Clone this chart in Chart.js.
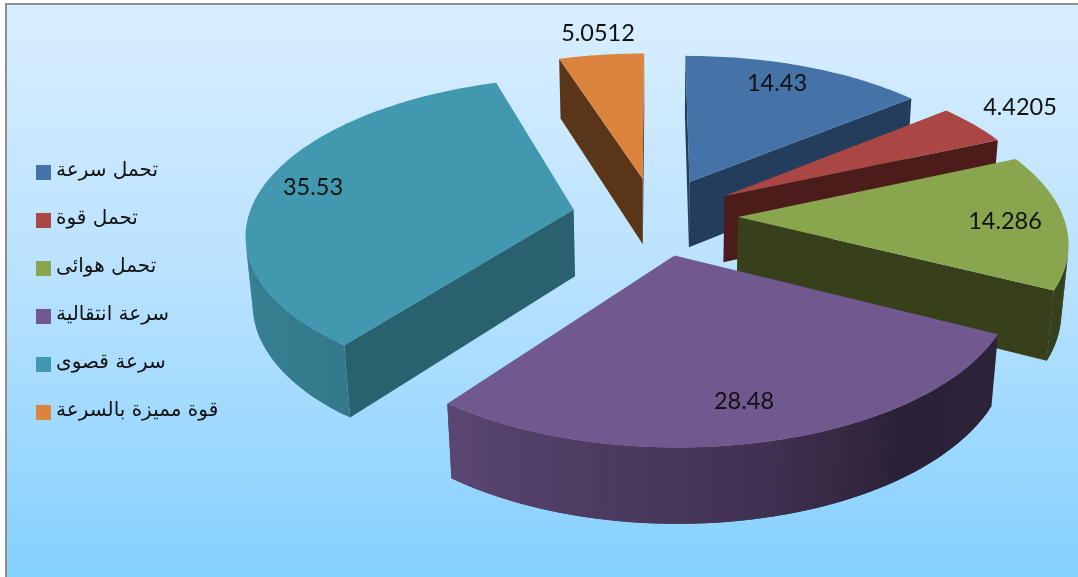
<!DOCTYPE html>
<html>
<head>
<meta charset="utf-8">
<style>
  html, body { margin: 0; padding: 0; background: #fff; overflow: hidden; }
  #panel {
    position: absolute; left: 5px; top: 3px; width: 1073px; height: 574px;
    border-left: 2px solid #8e8e8e; border-top: 2px solid #8e8e8e;
    background: linear-gradient(#d9eeff 0%, #b7e1ff 50%, #84d0ff 100%);
  }
  canvas { position: absolute; left: 0; top: 0; }
</style>
</head>
<body>
<div id="panel"></div>
<canvas id="chart" width="1078" height="577"></canvas>
<script src="https://cdn.jsdelivr.net/npm/chart.js@4/dist/chart.umd.min.js"></script>
<script>
const categories = ['تحمل سرعة', 'تحمل قوة ', 'تحمل هوائى', 'سرعة انتقالية', 'سرعة قصوى', 'قوة مميزة بالسرعة']
const values = [14.43, 4.4205, 14.286, 28.48, 35.53, 5.0512]
const topColors = ['#4572a7', '#aa4643', '#89a54e', '#71588f', '#4198af', '#db843d']
const cutColors = ['#253d5c', '#4b1c1a', '#37401b', '#2c2238', '#2a616f', '#5a3517']
const labelSpots = [[777, 83], [1020, 107], [1005, 221], [744, 401], [313, 187], [598, 33]]

// camera used to tilt the pie, all sizes in canvas px
const view = { x: 655, y: 216, radius: 325, camera: 2300, tilt: 0.47, thick: 67, sink: 40 }

const project = (u, v, isBottom) => {
  const { x, y, camera, tilt, thick, sink } = view
  const d = camera - v + (isBottom ? sink : 0)
  const drop = isBottom ? thick * (camera + sink) : 0
  return { x: x + (u * camera) / d, y: y + (tilt * v * camera + drop) / d }
}

// rim gets darker toward the lower right
const rimStops = [[90, 0.4], [145, 0.39], [167, 0.56], [217, 0.8], [280, 0.88], [360, 0.88]]
const rimShade = (deg) => {
  for (let i = 1; i < rimStops.length; i++) {
    const [a, sa] = rimStops[i - 1]
    const [b, sb] = rimStops[i]
    if (deg <= b) return sa + ((sb - sa) * Math.max(deg - a, 0)) / (b - a)
  }
  return 0.88
}

const shadeColor = (hex, f) => {
  const n = parseInt(hex.slice(1), 16)
  const c = [n >> 16, (n >> 8) & 255, n & 255].map((p) => Math.round(p * f))
  return `rgb(${c[0]},${c[1]},${c[2]})`
}

const fillPoly = (ctx, pts, color) => {
  ctx.fillStyle = color
  ctx.beginPath()
  pts.forEach((p, i) => (i ? ctx.lineTo(p.x, p.y) : ctx.moveTo(p.x, p.y)))
  ctx.closePath()
  ctx.fill()
}

// only faces turned toward the viewer are painted
const facesViewer = (a, b, c) => (b.x - a.x) * (c.y - a.y) - (b.y - a.y) * (c.x - a.x) < 0

// "cover" runs the quad on past q so neighbouring rim quads leave no seam
const drawWall = (ctx, p, q, color, cover = q) => {
  const top1 = project(p.u, p.v, false)
  const top2 = project(q.u, q.v, false)
  const bot2 = project(q.u, q.v, true)
  if (!facesViewer(top1, top2, bot2)) return
  fillPoly(ctx, [top1, project(cover.u, cover.v, false), project(cover.u, cover.v, true), project(p.u, p.v, true)], color)
}

const drawSlice = (ctx, arc, index) => {
  const start = arc.startAngle + Math.PI / 2
  const end = arc.endAngle + Math.PI / 2
  const mid = (start + end) / 2
  const off = arc.options.offset
  const apex = { u: off * Math.sin(mid), v: -off * Math.cos(mid) }
  const rim = []
  const steps = Math.ceil((end - start) / 0.02)
  for (let i = 0; i <= steps; i++) {
    const t = start + ((end - start) * i) / steps
    rim.push({ t, u: apex.u + view.radius * Math.sin(t), v: apex.v - view.radius * Math.cos(t) })
  }

  drawWall(ctx, apex, rim[0], cutColors[index])
  drawWall(ctx, rim[rim.length - 1], apex, cutColors[index])
  for (let i = 0; i < steps; i++) {
    const deg = ((rim[i].t + rim[i + 1].t) / 2) * (180 / Math.PI)
    drawWall(ctx, rim[i], rim[i + 1], shadeColor(topColors[index], rimShade(deg)), rim[Math.min(i + 2, steps)])
  }
  fillPoly(ctx, [apex, ...rim].map((p) => project(p.u, p.v, false)), topColors[index])
}

const tiltedPie = {
  id: 'tiltedPie',
  beforeDatasetDraw(chart) {
    const ctx = chart.ctx
    const arcs = chart.getDatasetMeta(0).data
    const backToFront = arcs
      .map((arc, index) => ({ arc, index, depth: -Math.cos((arc.startAngle + arc.endAngle) / 2 + Math.PI / 2) }))
      .sort((a, b) => a.depth - b.depth)
    ctx.save()
    backToFront.forEach(({ arc, index }) => drawSlice(ctx, arc, index))
    ctx.restore()
    return false
  },
  afterDatasetsDraw(chart) {
    const ctx = chart.ctx
    ctx.save()
    ctx.font = '23.5px Lato'
    ctx.fillStyle = '#111'
    ctx.textAlign = 'center'
    ctx.textBaseline = 'middle'
    values.forEach((v, i) => ctx.fillText(String(v), labelSpots[i][0], labelSpots[i][1]))
    ctx.restore()
  },
  // legend text sits closer to its swatch than the library's gap allows
  afterDraw(chart) {
    const ctx = chart.ctx
    const { legendItems, legendHitBoxes } = chart.legend
    ctx.save()
    ctx.font = "20px 'DejaVu Sans'"
    ctx.fillStyle = '#111'
    ctx.textAlign = 'left'
    ctx.textBaseline = 'middle'
    legendItems.forEach((item, i) => {
      const box = legendHitBoxes[i]
      ctx.fillText(item.text, box.left + 20, box.top + box.height / 2 - 2)
    })
    ctx.restore()
  },
}

new Chart(document.getElementById('chart').getContext('2d'), {
  type: 'pie',
  data: {
    labels: categories,
    datasets: [
      {
        data: values,
        backgroundColor: topColors,
        borderWidth: 0,
        offset: 83,
      },
    ],
  },
  options: {
    responsive: false,
    animation: false,
    layout: { padding: { left: 8, top: 8 } },
    plugins: {
      tooltip: { enabled: false },
      legend: {
        position: 'left',
        labels: {
          boxWidth: 15,
          boxHeight: 15,
          padding: 28,
          color: 'rgba(0,0,0,0)',
          font: { family: "'DejaVu Sans'", size: 20 },
        },
      },
    },
  },
  plugins: [tiltedPie],
})
</script>
</body>
</html>
